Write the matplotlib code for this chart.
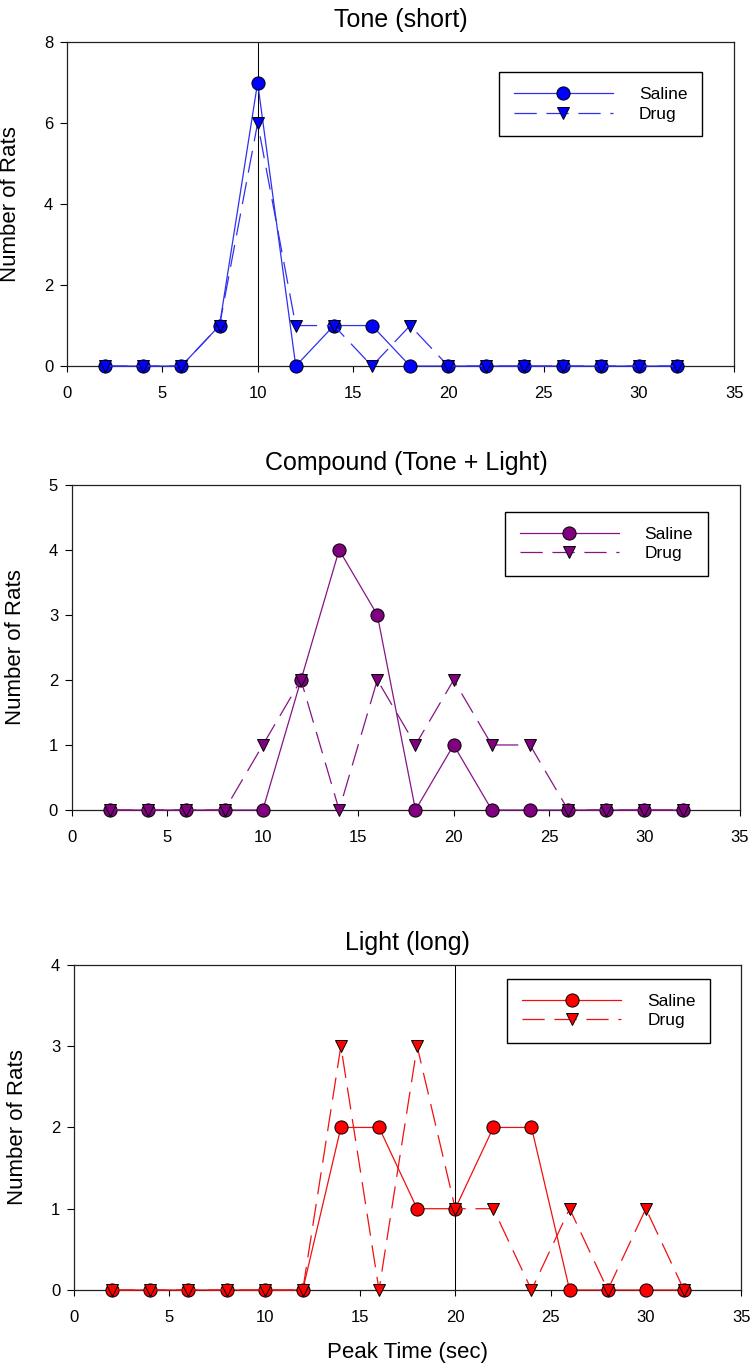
import numpy as np
import matplotlib
matplotlib.use("Agg")
import matplotlib.pyplot as plt

# 数据 (peak time bins, number of rats)
peak_time = [2, 4, 6, 8, 10, 12, 14, 16, 18, 20, 22, 24, 26, 28, 30, 32]

tone_saline = [0, 0, 0, 1, 7, 0, 1, 1, 0, 0, 0, 0, 0, 0, 0, 0]
tone_drug = [0, 0, 0, 1, 6, 1, 1, 0, 1, 0, 0, 0, 0, 0, 0, 0]

compound_saline = [0, 0, 0, 0, 0, 2, 4, 3, 0, 1, 0, 0, 0, 0, 0, 0]
compound_drug = [0, 0, 0, 0, 1, 2, 0, 2, 1, 2, 1, 1, 0, 0, 0, 0]

light_saline = [0, 0, 0, 0, 0, 0, 2, 2, 1, 1, 2, 2, 0, 0, 0, 0]
light_drug = [0, 0, 0, 0, 0, 0, 3, 0, 3, 1, 1, 0, 1, 0, 1, 0]

titles = ["Tone (short)", "Compound (Tone + Light)", "Light (long)"]
legend_labels = ["Saline", "Drug"]
xticks = [0, 5, 10, 15, 20, 25, 30, 35]

plt.rcParams['font.family'] = ['Liberation Sans', 'DejaVu Sans']
plt.rcParams['lines.scale_dashes'] = False

fig = plt.figure(figsize=(7.53, 13.71), dpi=100)

# 画布位置 [left, bottom, width, height]
panels = [
    dict(rect=[0.0890, 0.7330, 0.886, 0.2363], title=titles[0],
         saline=tone_saline, drug=tone_drug, ymax=8, ystep=2,
         line='#3030f0', fill='#0000ff', vline=10, leg=(0.952, 0.907)),
    dict(rect=[0.0956, 0.4092, 0.887, 0.2371], title=titles[1],
         saline=compound_saline, drug=compound_drug, ymax=5, ystep=1,
         line='#861486', fill='#800080', vline=None, leg=(0.952, 0.917)),
    dict(rect=[0.0983, 0.0591, 0.886, 0.2371], title=titles[2],
         saline=light_saline, drug=light_drug, ymax=4, ystep=1,
         line='#f01010', fill='#ff0000', vline=20, leg=(0.954, 0.957)),
]

for i, p in enumerate(panels):
    ax = fig.add_axes(p['rect'])

    # 参考竖线
    if p['vline'] is not None:
        ax.axvline(p['vline'], color='black', lw=0.75, zorder=1)

    ax.plot(peak_time, p['saline'], color=p['line'], lw=0.9, marker='o',
            markersize=9.5, markerfacecolor=p['fill'], markeredgecolor='black',
            markeredgewidth=0.7, clip_on=False, zorder=3, label=legend_labels[0])
    ax.plot(peak_time, p['drug'], color=p['line'], lw=0.9, dashes=(16, 7),
            marker='v', markersize=8.5, markerfacecolor=p['fill'],
            markeredgecolor='black', markeredgewidth=0.7, clip_on=False,
            zorder=4, label=legend_labels[1])

    ax.set_xlim(0, 35)
    ax.set_ylim(0, p['ymax'])
    ax.set_xticks(xticks)
    ax.set_yticks(np.arange(0, p['ymax'] + 1, p['ystep']))

    for s in ax.spines.values():
        s.set_linewidth(0.9)
        s.set_color('#222222')

    ax.tick_params(axis='x', direction='out', length=4.5, width=0.8,
                   labelsize=12, pad=10, top=False)
    ax.tick_params(axis='y', direction='out', length=5, width=0.8,
                   labelsize=12, pad=5, right=False)

    ax.set_title(p['title'], fontsize=18, pad=11)
    ax.set_ylabel("Number of Rats", fontsize=16)
    ax.yaxis.set_label_coords(-0.069, 0.5)

    if i == 2:
        ax.set_xlabel("Peak Time (sec)", fontsize=16)
        ax.xaxis.set_label_coords(0.5, -0.16)

    # 图例
    leg = ax.legend(loc='upper right', bbox_to_anchor=p['leg'], fontsize=12.5,
                    handlelength=5.7, handletextpad=1.5, numpoints=1,
                    labelspacing=0.25, borderpad=0.85, borderaxespad=0,
                    fancybox=False, framealpha=1, edgecolor='black')
    leg.get_frame().set_linewidth(1.0)

plt.savefig("out.png", dpi=100)
plt.close()
